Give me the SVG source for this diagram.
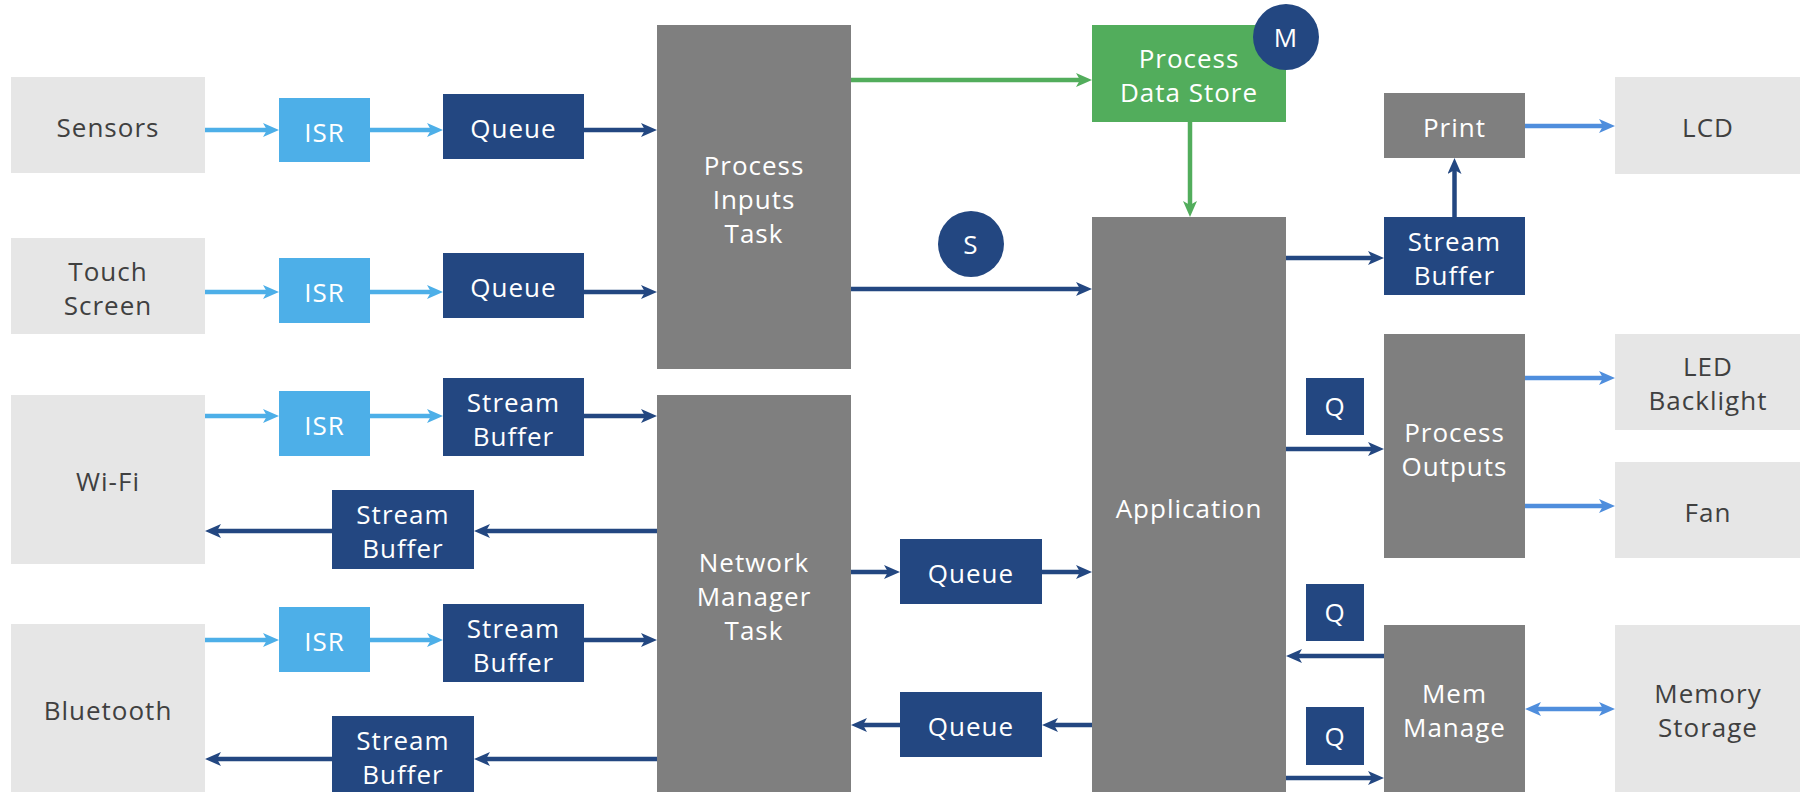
<svg xmlns="http://www.w3.org/2000/svg" width="1800" height="792" viewBox="0 0 1800 792">
<style>
text{font-family:"Open Sans","Liberation Sans",sans-serif;font-size:26px;letter-spacing:1px;text-anchor:middle}
.ext rect{fill:#E6E6E6}.ext text{fill:#404040}
.task rect{fill:#7F7F7F}.task text{fill:#FFFFFF}
.isr rect{fill:#4DAFE8}.isr text{fill:#FFFFFF}
.q rect{fill:#234781}.q text{fill:#FFFFFF}
.grn rect{fill:#52AD5C}.grn text{fill:#FFFFFF}
.circ circle{fill:#234781}.circ text{fill:#FFFFFF}
.c{fill:none;stroke-width:4.5}
.lb{stroke:#4DAFE8;marker-end:url(#hLb)}
.nv{stroke:#234781;marker-end:url(#hNv)}
.gr{stroke:#52AD5C;marker-end:url(#hGr)}
.ob{stroke:#4F8EDD;marker-end:url(#hOb)}
</style>
<defs>
<marker id="hLb" markerUnits="userSpaceOnUse" markerWidth="16" markerHeight="16" refX="6" refY="7" orient="auto"><path d="M0,0 L16,7 L0,14 L4,7 z" fill="#4DAFE8"/></marker>
<marker id="hNv" markerUnits="userSpaceOnUse" markerWidth="16" markerHeight="16" refX="6" refY="7" orient="auto"><path d="M0,0 L16,7 L0,14 L4,7 z" fill="#234781"/></marker>
<marker id="hGr" markerUnits="userSpaceOnUse" markerWidth="16" markerHeight="16" refX="6" refY="7" orient="auto"><path d="M0,0 L16,7 L0,14 L4,7 z" fill="#52AD5C"/></marker>
<marker id="hOb" markerUnits="userSpaceOnUse" markerWidth="16" markerHeight="16" refX="6" refY="7" orient="auto-start-reverse"><path d="M0,0 L16,7 L0,14 L4,7 z" fill="#4F8EDD"/></marker>
</defs>
<rect width="1800" height="792" fill="#FFFFFF"/>

<g id="sensors" class="ext"><rect x="11" y="77" width="194" height="96"/><text x="108" y="137">Sensors</text></g>
<g id="touch" class="ext"><rect x="11" y="238" width="194" height="96"/><text x="108" y="281">Touch<tspan x="108" dy="34">Screen</tspan></text></g>
<g id="wifi" class="ext"><rect x="11" y="395" width="194" height="169"/><text x="108" y="491">Wi-Fi</text></g>
<g id="bluetooth" class="ext"><rect x="11" y="624" width="194" height="170"/><text x="108" y="720">Bluetooth</text></g>

<g id="isr1" class="isr"><rect x="279" y="98" width="91" height="64"/><text x="324.5" y="142">ISR</text></g>
<g id="isr2" class="isr"><rect x="279" y="258" width="91" height="65"/><text x="324.5" y="302">ISR</text></g>
<g id="isr3" class="isr"><rect x="279" y="391" width="91" height="65"/><text x="324.5" y="435">ISR</text></g>
<g id="isr4" class="isr"><rect x="279" y="607" width="91" height="65"/><text x="324.5" y="651">ISR</text></g>

<g id="queue1" class="q"><rect x="443" y="94" width="141" height="65"/><text x="513.5" y="138">Queue</text></g>
<g id="queue2" class="q"><rect x="443" y="253" width="141" height="65"/><text x="513.5" y="297">Queue</text></g>
<g id="sbin1" class="q"><rect x="443" y="378" width="141" height="78"/><text x="513.5" y="412">Stream<tspan x="513.5" dy="34">Buffer</tspan></text></g>
<g id="sbin2" class="q"><rect x="443" y="604" width="141" height="78"/><text x="513.5" y="638">Stream<tspan x="513.5" dy="34">Buffer</tspan></text></g>
<g id="sbout1" class="q"><rect x="332" y="490" width="142" height="79"/><text x="403" y="524">Stream<tspan x="403" dy="34">Buffer</tspan></text></g>
<g id="sbout2" class="q"><rect x="332" y="716" width="142" height="78"/><text x="403" y="750">Stream<tspan x="403" dy="34">Buffer</tspan></text></g>

<g id="pit" class="task"><rect x="657" y="25" width="194" height="344"/><text x="754" y="175">Process<tspan x="754" dy="34">Inputs</tspan><tspan x="754" dy="34">Task</tspan></text></g>
<g id="nmt" class="task"><rect x="657" y="395" width="194" height="399"/><text x="754" y="572">Network<tspan x="754" dy="34">Manager</tspan><tspan x="754" dy="34">Task</tspan></text></g>

<g id="qmid" class="q"><rect x="900" y="539" width="142" height="65"/><text x="971" y="583">Queue</text></g>
<g id="qlow" class="q"><rect x="900" y="692" width="142" height="65"/><text x="971" y="736">Queue</text></g>

<g id="sem" class="circ"><circle cx="971" cy="244" r="33"/><text x="971" y="254">S</text></g>

<g id="pds" class="grn"><rect x="1092" y="25" width="194" height="97"/><text x="1189" y="68">Process<tspan x="1189" dy="34">Data Store</tspan></text></g>
<g id="mutex" class="circ"><circle cx="1286" cy="37" r="33"/><text x="1286" y="47">M</text></g>

<g id="app" class="task"><rect x="1092" y="217" width="194" height="577"/><text x="1189" y="518">Application</text></g>

<g id="print" class="task"><rect x="1384" y="93" width="141" height="65"/><text x="1454.5" y="137">Print</text></g>
<g id="sbright" class="q"><rect x="1384" y="217" width="141" height="78"/><text x="1454.5" y="251">Stream<tspan x="1454.5" dy="34">Buffer</tspan></text></g>
<g id="po" class="task"><rect x="1384" y="334" width="141" height="224"/><text x="1454.5" y="442">Process<tspan x="1454.5" dy="34">Outputs</tspan></text></g>
<g id="mm" class="task"><rect x="1384" y="625" width="141" height="169"/><text x="1454.5" y="703">Mem<tspan x="1454.5" dy="34">Manage</tspan></text></g>

<g id="qb1" class="q"><rect x="1306" y="378" width="58" height="57"/><text x="1335" y="416">Q</text></g>
<g id="qb2" class="q"><rect x="1306" y="584" width="58" height="57"/><text x="1335" y="622">Q</text></g>
<g id="qb3" class="q"><rect x="1306" y="707" width="58" height="58"/><text x="1335" y="746">Q</text></g>

<g id="lcd" class="ext"><rect x="1615" y="77" width="187" height="97"/><text x="1708" y="137">LCD</text></g>
<g id="led" class="ext"><rect x="1615" y="334" width="187" height="96"/><text x="1708" y="376">LED<tspan x="1708" dy="34">Backlight</tspan></text></g>
<g id="fan" class="ext"><rect x="1615" y="462" width="187" height="96"/><text x="1708" y="522">Fan</text></g>
<g id="memstore" class="ext"><rect x="1615" y="625" width="187" height="169"/><text x="1708" y="703">Memory<tspan x="1708" dy="34">Storage</tspan></text></g>

<g id="connectors">
<path class="c lb" d="M205,130 H269"/>
<path class="c lb" d="M370,130 H433"/>
<path class="c lb" d="M205,292 H269"/>
<path class="c lb" d="M370,292 H433"/>
<path class="c lb" d="M205,416 H269"/>
<path class="c lb" d="M370,416 H433"/>
<path class="c lb" d="M205,640 H269"/>
<path class="c lb" d="M370,640 H433"/>

<path class="c nv" d="M584,130 H647"/>
<path class="c nv" d="M584,292 H647"/>
<path class="c nv" d="M584,416 H647"/>
<path class="c nv" d="M657,531 H484"/>
<path class="c nv" d="M332,531 H215"/>
<path class="c nv" d="M584,640 H647"/>
<path class="c nv" d="M657,759 H484"/>
<path class="c nv" d="M332,759 H215"/>
<path class="c nv" d="M851,572 H890"/>
<path class="c nv" d="M1042,572 H1082"/>
<path class="c nv" d="M1092,725 H1052"/>
<path class="c nv" d="M900,725 H861"/>
<path class="c nv" d="M851,289 H1082"/>
<path class="c nv" d="M1286,258 H1374"/>
<path class="c nv" d="M1454.5,217 V168"/>
<path class="c nv" d="M1286,449 H1374"/>
<path class="c nv" d="M1384,656 H1296"/>
<path class="c nv" d="M1286,778 H1374"/>

<path class="c gr" d="M851,80 H1082"/>
<path class="c gr" d="M1190,122 V207"/>

<path class="c ob" d="M1525,126 H1605"/>
<path class="c ob" d="M1525,378 H1605"/>
<path class="c ob" d="M1525,506 H1605"/>
<path class="c ob" d="M1535,709 H1605" style="marker-start:url(#hOb)"/>
</g>
</svg>
